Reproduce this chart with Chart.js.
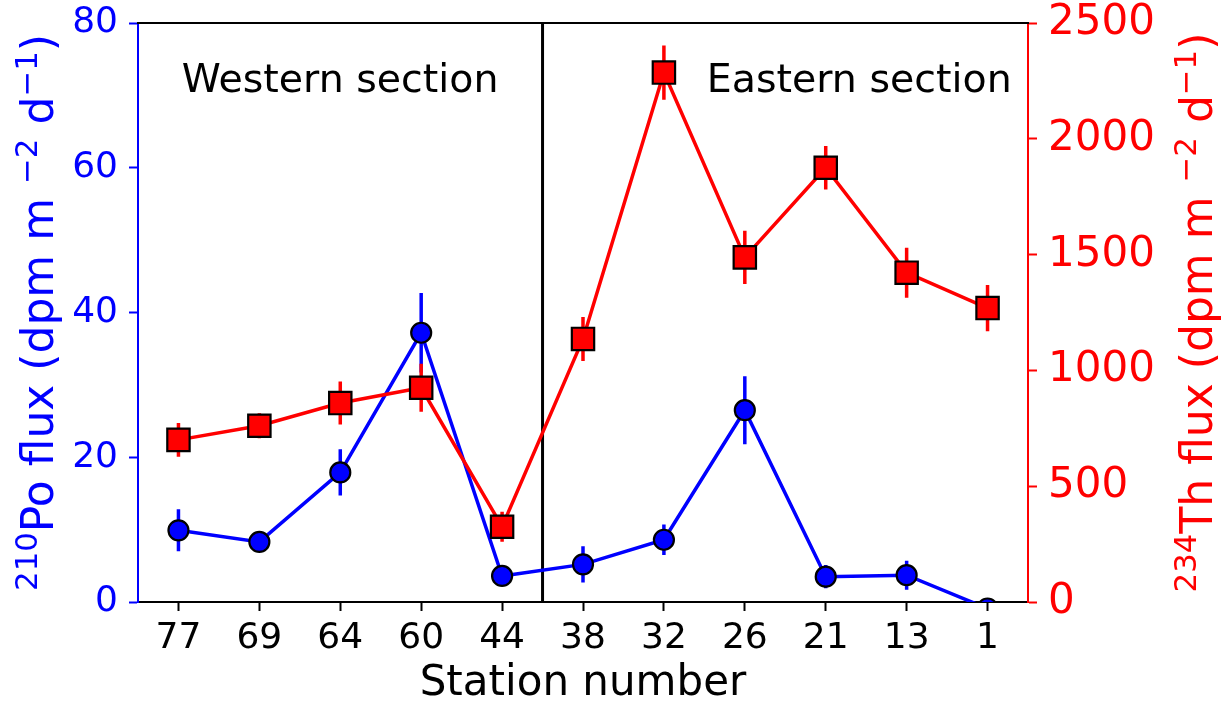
<!DOCTYPE html>
<html><head><meta charset="utf-8">
<script src="https://cdn.jsdelivr.net/npm/chart.js@4.4.1/dist/chart.umd.min.js"></script>
<style>html,body{margin:0;padding:0;background:#fff;}#wrap{width:1225px;height:709px;}</style>
</head><body><div id="wrap"><canvas id="c" width="1225" height="709"></canvas></div>
<script>
// ---- data ----
const stations = ['77','69','64','60','44','38','32','26','21','13','1'];
const poFlux = [9.9, 8.3, 17.9, 37.2, 3.6, 5.2, 8.6, 26.5, 3.5, 3.7, -0.9];
const poErr  = [2.9, 1.0, 3.2, 5.5, 1.0, 2.5, 2.1, 4.7, 1.6, 2.0, 1.0];
const thFlux = [700, 761, 859, 925, 325, 1136, 2286, 1488, 1875, 1422, 1269];
const thErr  = [73, 54, 93, 104, 65, 95, 117, 115, 94, 108, 100];
const poRange = [0, 80], poStep = 20;
const thRange = [0, 2500], thStep = 500;
const sectionDivider = 4.5;
const westLabel = 'Western section', eastLabel = 'Eastern section';
const xTitle = 'Station number';
const poTitle = [['210',1],['Po flux (dpm m ',0],['\u22122',1],[' d',0],['\u22121',1],[')',0]];
const thTitle = [['234',1],['Th flux (dpm m ',0],['\u22122',1],[' d',0],['\u22121',1],[')',0]];

const FONT = '"DejaVu Sans", sans-serif';
const BLUE = '#0000ff', RED = '#ff0000';
const LW = 3.5;

const errorBars = {
  id: 'errorBars',
  beforeDatasetDraw(chart, args) {
    const ds = chart.data.datasets[args.index];
    const ys = chart.scales[ds.yAxisID], xs = chart.scales.x;
    const a = chart.chartArea, ctx = chart.ctx;
    ctx.save();
    ctx.beginPath(); ctx.rect(a.left, a.top, a.right - a.left, a.bottom - a.top); ctx.clip();
    ctx.strokeStyle = ds.borderColor; ctx.lineWidth = LW;
    ctx.beginPath();
    ds.data.forEach((v, i) => {
      const e = ds.errors[i], x = xs.getPixelForValue(i);
      ctx.moveTo(x, ys.getPixelForValue(v - e));
      ctx.lineTo(x, ys.getPixelForValue(v + e));
    });
    ctx.stroke();
    ctx.restore();
  }
};

function drawRich(ctx, parts, x, y, size, color) {
  ctx.save();
  ctx.translate(x, y); ctx.rotate(-Math.PI / 2);
  ctx.textBaseline = 'alphabetic'; ctx.textAlign = 'left'; ctx.fillStyle = color;
  let total = 0; const ws = [];
  parts.forEach(p => { ctx.font = (p[1] ? size * 0.7 : size) + 'px ' + FONT; const w = ctx.measureText(p[0]).width; ws.push(w); total += w; });
  let cx = -total / 2;
  parts.forEach((p, i) => { ctx.font = (p[1] ? size * 0.7 : size) + 'px ' + FONT; ctx.fillText(p[0], cx, p[1] ? -size * 0.36 : 0); cx += ws[i]; });
  ctx.restore();
}

const decor = {
  id: 'decor',
  beforeDatasetsDraw(chart) {
    const ctx = chart.ctx, a = chart.chartArea, xs = chart.scales.x;
    const xd = xs.getPixelForValue(sectionDivider);
    ctx.save(); ctx.strokeStyle = '#000'; ctx.lineWidth = 3;
    ctx.beginPath(); ctx.moveTo(xd, a.top); ctx.lineTo(xd, a.bottom); ctx.stroke();
    ctx.restore();
  },
  afterDraw(chart) {
    const ctx = chart.ctx, a = chart.chartArea, xs = chart.scales.x, ys = chart.scales.y;
    ctx.save();
    ctx.strokeStyle = '#000'; ctx.lineWidth = 2;
    ctx.beginPath(); ctx.moveTo(a.left - 1, a.top); ctx.lineTo(a.right + 1, a.top); ctx.stroke();
    ctx.fillStyle = '#000'; ctx.font = '39.5px ' + FONT; ctx.textBaseline = 'alphabetic'; ctx.textAlign = 'left';
    ctx.fillText(westLabel, xs.getPixelForValue(0.04), ys.getPixelForValue(70.5));
    ctx.fillText(eastLabel, xs.getPixelForValue(6.53), ys.getPixelForValue(70.5));
    ctx.restore();
    const cy = (a.top + a.bottom) / 2;
    drawRich(ctx, poTitle, 53, cy, 44, BLUE);
    drawRich(ctx, thTitle, 1212, cy, 44, RED);
  }
};

function noPad(s) { s.paddingTop = 0; s.paddingBottom = 0; }

new Chart(document.getElementById('c'), {
  type: 'line',
  data: {
    labels: stations,
    datasets: [
      { label: '210Po', data: poFlux, errors: poErr, yAxisID: 'y', order: 2,
        borderColor: BLUE, backgroundColor: BLUE, borderWidth: LW, tension: 0,
        pointStyle: 'circle', pointRadius: 10, pointHoverRadius: 10,
        pointBackgroundColor: BLUE, pointBorderColor: '#000', pointBorderWidth: 2.2 },
      { label: '234Th', data: thFlux, errors: thErr, yAxisID: 'y1', order: 1,
        borderColor: RED, backgroundColor: RED, borderWidth: LW, tension: 0,
        pointStyle: 'rect', pointRadius: 15.8, pointHoverRadius: 15.8,
        pointBackgroundColor: RED, pointBorderColor: '#000', pointBorderWidth: 2.2 }
    ]
  },
  options: {
    responsive: false, animation: false, events: [],
    layout: { padding: { top: 23, left: 0, right: 0, bottom: 0 } },
    plugins: { legend: { display: false }, tooltip: { enabled: false } },
    scales: {
      x: {
        type: 'category', offset: true,
        grid: { offset: false, drawOnChartArea: false, drawTicks: true, tickLength: 9, tickWidth: 2, tickColor: '#000' },
        border: { display: true, color: '#000', width: 2 },
        ticks: { font: { family: FONT, size: 36 }, color: '#000', padding: 6, maxRotation: 0, autoSkip: false },
        title: { display: true, text: xTitle, font: { family: FONT, size: 42 }, color: '#000', padding: { top: 0, bottom: 0 } },
        afterFit(s) { s.height = 107; s.paddingLeft = 0; s.paddingRight = 0; }
      },
      y: {
        position: 'left', min: poRange[0], max: poRange[1],
        grid: { drawOnChartArea: false, drawTicks: true, tickLength: 9, tickWidth: 2, tickColor: BLUE },
        border: { display: true, color: BLUE, width: 2 },
        ticks: { stepSize: poStep, font: { family: FONT, size: 36 }, color: BLUE, padding: 11, callback: v => String(v) },
        afterFit(s) { s.width = 138; noPad(s); }
      },
      y1: {
        position: 'right', min: thRange[0], max: thRange[1],
        grid: { drawOnChartArea: false, drawTicks: true, tickLength: 9, tickWidth: 2, tickColor: RED },
        border: { display: true, color: RED, width: 2 },
        ticks: { stepSize: thStep, font: { family: FONT, size: 42 }, color: RED, padding: 11, callback: v => String(v) },
        afterFit(s) { s.width = 197; noPad(s); }
      }
    }
  },
  plugins: [errorBars, decor]
});
</script></body></html>
